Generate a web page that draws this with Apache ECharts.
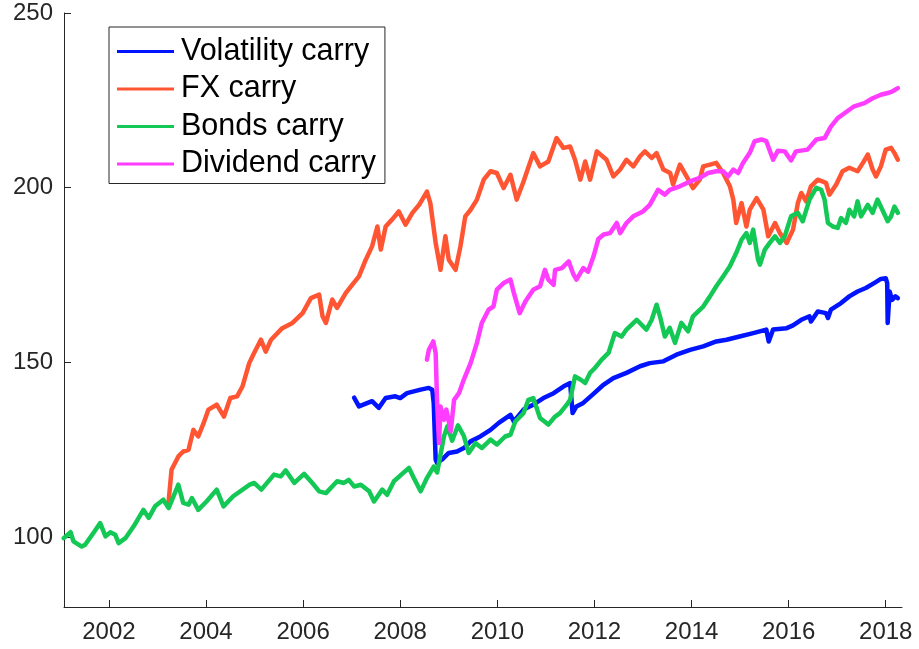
<!DOCTYPE html>
<html>
<head>
<meta charset="utf-8">
<script src="https://cdn.jsdelivr.net/npm/echarts@6/dist/echarts.min.js"></script>
<style>
html,body{margin:0;padding:0;background:#fff;}
#chart{width:919px;height:649px;}
</style>
</head>
<body>
<div id="chart"></div>
<script>
// Series names
var seriesNames = ['Volatility carry', 'FX carry', 'Bonds carry', 'Dividend carry'];
// Tick labels
var xTicks = [2002, 2004, 2006, 2008, 2010, 2012, 2014, 2016, 2018];
var yTicks = [100, 150, 200, 250];

// [year, index value]
var volatilityCarry = [[2007.05,139.9],[2007.15,137.4],[2007.42,138.9],[2007.56,137.0],[2007.7,139.8],[2007.9,140.3],[2008.0,139.8],[2008.14,141.2],[2008.28,141.7],[2008.42,142.2],[2008.59,142.7],[2008.66,142.2],[2008.69,138.4],[2008.73,122.2],[2008.76,121.2],[2008.86,122.2],[2009.0,124.1],[2009.17,124.5],[2009.31,125.5],[2009.45,127.4],[2009.65,128.8],[2009.86,130.7],[2010.03,132.7],[2010.27,135.0],[2010.34,133.1],[2010.54,136.5],[2010.74,137.9],[2010.95,139.8],[2011.16,141.2],[2011.36,143.1],[2011.5,144.1],[2011.55,135.5],[2011.63,137.4],[2011.77,138.4],[2011.98,141.0],[2012.17,143.4],[2012.39,145.5],[2012.66,147.0],[2012.94,148.9],[2013.14,149.8],[2013.42,150.3],[2013.69,152.2],[2013.97,153.6],[2014.24,154.6],[2014.51,156.0],[2014.72,156.5],[2014.99,157.4],[2015.27,158.4],[2015.54,159.4],[2015.59,156.0],[2015.68,159.4],[2015.96,159.8],[2016.09,160.6],[2016.26,162.2],[2016.43,163.2],[2016.46,161.7],[2016.6,164.6],[2016.77,164.1],[2016.81,162.7],[2016.87,165.1],[2017.08,167.0],[2017.25,168.9],[2017.42,170.3],[2017.59,171.3],[2017.76,172.7],[2017.9,173.9],[2018.0,174.1],[2018.03,172.7],[2018.04,161.3],[2018.08,170.3],[2018.13,167.9],[2018.2,168.9],[2018.25,168.4]];

var fxCarry = [[2003.23,110.2],[2003.29,119.3],[2003.43,123.1],[2003.53,124.5],[2003.64,125.0],[2003.74,130.7],[2003.84,128.8],[2003.95,132.6],[2004.05,136.5],[2004.22,137.9],[2004.37,134.5],[2004.5,139.8],[2004.64,140.3],[2004.75,143.1],[2004.89,149.8],[2004.99,152.7],[2005.13,156.5],[2005.23,153.1],[2005.34,156.5],[2005.57,159.8],[2005.78,161.3],[2005.99,164.1],[2006.16,168.4],[2006.33,169.4],[2006.4,163.2],[2006.47,161.3],[2006.6,168.0],[2006.7,165.6],[2006.88,169.9],[2007.01,172.2],[2007.15,174.6],[2007.29,179.4],[2007.42,183.2],[2007.53,188.9],[2007.6,182.3],[2007.7,188.9],[2007.84,191.0],[2007.97,193.2],[2008.11,189.4],[2008.25,192.8],[2008.39,195.1],[2008.55,198.9],[2008.62,195.6],[2008.73,184.2],[2008.83,176.5],[2008.93,186.1],[2009.0,179.4],[2009.14,176.5],[2009.24,183.2],[2009.34,191.8],[2009.45,193.7],[2009.58,196.6],[2009.72,202.3],[2009.86,204.7],[2009.99,204.2],[2010.13,199.9],[2010.27,203.7],[2010.4,196.6],[2010.54,201.8],[2010.74,209.9],[2010.88,206.1],[2011.05,207.5],[2011.22,214.2],[2011.36,211.4],[2011.5,211.8],[2011.6,208.0],[2011.71,202.3],[2011.81,207.5],[2011.91,202.3],[2012.05,210.4],[2012.25,208.0],[2012.39,203.2],[2012.53,205.2],[2012.66,208.0],[2012.8,206.1],[2012.94,209.0],[2013.04,210.4],[2013.18,208.5],[2013.28,209.9],[2013.42,205.2],[2013.56,204.2],[2013.62,200.9],[2013.76,206.6],[2013.9,203.2],[2014.03,199.9],[2014.17,202.3],[2014.24,206.1],[2014.38,206.6],[2014.51,207.1],[2014.65,204.2],[2014.79,200.4],[2014.86,196.6],[2014.92,189.9],[2015.03,195.6],[2015.13,188.9],[2015.2,193.7],[2015.34,197.0],[2015.48,193.7],[2015.58,186.1],[2015.72,189.9],[2015.82,187.0],[2015.96,184.2],[2016.09,188.0],[2016.19,195.6],[2016.26,198.5],[2016.36,196.1],[2016.46,200.4],[2016.6,202.3],[2016.77,201.4],[2016.84,198.0],[2016.98,200.9],[2017.11,204.7],[2017.25,205.7],[2017.42,204.7],[2017.53,207.1],[2017.63,209.5],[2017.73,205.2],[2017.8,203.2],[2017.9,206.1],[2018.0,210.9],[2018.11,211.4],[2018.18,209.9],[2018.25,208.0]];

var bondsCarry = [[2001.07,99.7],[2001.21,101.4],[2001.27,98.8],[2001.44,97.3],[2001.51,97.8],[2001.68,101.2],[2001.82,104.0],[2001.93,100.2],[2002.03,101.4],[2002.13,100.7],[2002.2,98.3],[2002.34,99.7],[2002.51,103.1],[2002.71,107.8],[2002.82,105.5],[2002.95,108.8],[2003.12,110.7],[2003.23,108.3],[2003.43,115.0],[2003.53,109.8],[2003.64,109.3],[2003.71,111.2],[2003.84,107.8],[2004.01,110.2],[2004.22,113.6],[2004.36,108.8],[2004.56,111.7],[2004.9,115.0],[2004.99,115.5],[2005.14,113.6],[2005.4,117.9],[2005.54,117.4],[2005.64,119.1],[2005.82,115.5],[2006.02,118.1],[2006.19,115.5],[2006.33,113.1],[2006.47,112.6],[2006.7,116.0],[2006.84,115.5],[2006.94,116.4],[2007.05,114.5],[2007.19,115.0],[2007.36,113.1],[2007.46,110.2],[2007.63,113.6],[2007.73,112.1],[2007.87,116.0],[2008.04,118.1],[2008.18,119.8],[2008.28,116.9],[2008.42,113.1],[2008.55,116.9],[2008.69,120.2],[2008.76,118.5],[2008.9,128.8],[2008.97,131.7],[2009.07,127.6],[2009.19,132.0],[2009.31,129.0],[2009.41,124.1],[2009.55,126.9],[2009.68,125.5],[2009.86,127.9],[2009.99,126.5],[2010.16,128.8],[2010.27,129.3],[2010.37,133.1],[2010.54,135.5],[2010.64,139.3],[2010.74,139.8],[2010.88,134.1],[2011.05,132.2],[2011.19,134.5],[2011.29,135.5],[2011.43,137.9],[2011.5,139.3],[2011.6,146.0],[2011.71,145.1],[2011.81,144.1],[2011.91,147.0],[2012.01,148.4],[2012.15,150.8],[2012.29,152.7],[2012.42,158.4],[2012.56,157.4],[2012.66,159.4],[2012.87,162.2],[2013.07,159.4],[2013.18,162.2],[2013.28,166.5],[2013.35,163.2],[2013.45,157.4],[2013.55,159.9],[2013.66,155.6],[2013.79,161.3],[2013.93,158.9],[2014.03,163.2],[2014.24,166.0],[2014.38,168.9],[2014.51,171.8],[2014.65,174.6],[2014.79,177.5],[2014.92,181.3],[2015.03,185.1],[2015.13,187.0],[2015.2,184.2],[2015.27,188.0],[2015.37,179.4],[2015.41,178.0],[2015.51,182.3],[2015.61,184.2],[2015.72,186.1],[2015.82,184.2],[2015.92,186.1],[2016.05,191.8],[2016.19,192.8],[2016.29,190.4],[2016.43,196.6],[2016.57,200.0],[2016.67,199.4],[2016.74,196.6],[2016.81,189.9],[2016.91,188.9],[2017.01,188.5],[2017.08,191.3],[2017.18,189.9],[2017.25,193.7],[2017.35,191.8],[2017.42,196.1],[2017.49,191.8],[2017.63,195.1],[2017.73,192.8],[2017.83,196.6],[2017.93,193.7],[2018.04,190.4],[2018.11,191.8],[2018.18,194.6],[2018.25,192.8]];

var dividendCarry = [[2008.55,150.8],[2008.59,153.6],[2008.68,156.0],[2008.73,152.7],[2008.76,138.4],[2008.8,126.9],[2008.83,137.4],[2008.9,133.6],[2008.95,136.5],[2009.04,130.3],[2009.11,139.3],[2009.21,141.2],[2009.31,145.1],[2009.45,149.8],[2009.58,155.6],[2009.68,161.3],[2009.82,165.1],[2009.92,166.0],[2009.99,170.8],[2010.13,172.7],[2010.27,173.7],[2010.34,169.9],[2010.46,164.1],[2010.58,167.5],[2010.74,170.8],[2010.88,171.8],[2010.98,176.5],[2011.05,173.7],[2011.16,172.2],[2011.19,176.5],[2011.33,177.0],[2011.47,178.9],[2011.57,175.1],[2011.63,173.7],[2011.77,177.0],[2011.87,176.0],[2011.98,180.3],[2012.08,185.3],[2012.19,186.6],[2012.32,187.0],[2012.46,189.9],[2012.53,187.0],[2012.66,189.9],[2012.8,191.8],[2013.0,193.2],[2013.14,195.1],[2013.31,199.4],[2013.45,198.0],[2013.55,199.4],[2013.76,200.4],[2013.97,201.8],[2014.17,202.8],[2014.34,204.2],[2014.51,204.7],[2014.65,204.7],[2014.75,203.2],[2014.86,205.2],[2014.96,204.2],[2015.06,207.1],[2015.2,210.0],[2015.3,213.3],[2015.44,213.8],[2015.54,213.3],[2015.68,208.0],[2015.78,210.6],[2015.92,210.4],[2016.05,207.8],[2016.15,210.4],[2016.39,210.9],[2016.57,213.8],[2016.74,214.2],[2016.87,217.5],[2017.01,219.9],[2017.15,221.3],[2017.35,223.3],[2017.56,224.2],[2017.73,225.6],[2017.9,226.6],[2018.04,227.1],[2018.14,227.6],[2018.25,228.5]];

var colors = ['#0014ff', '#ff5533', '#14c855', '#ff3cff'];
var allData = [volatilityCarry, fxCarry, bondsCarry, dividendCarry];

var chart = echarts.init(document.getElementById('chart'), null, {renderer: 'canvas'});
var axisColor = '#262626';
var font = '"Liberation Sans", Arial, Helvetica, sans-serif';

chart.setOption({
  animation: false,
  backgroundColor: '#ffffff',
  color: colors,
  grid: {left: 64, right: 17, top: 13, bottom: 42, containLabel: false},
  xAxis: {
    type: 'value',
    min: 2001.075,
    max: 2018.335,
    axisLine: {show: true, lineStyle: {color: axisColor, width: 1}},
    axisTick: {show: true, inside: true, length: 7, customValues: xTicks, lineStyle: {color: axisColor}},
    axisLabel: {show: true, customValues: xTicks, margin: 13, fontSize: 24, color: axisColor, fontFamily: font,
      formatter: function (v) { return String(v); }},
    splitLine: {show: false}
  },
  yAxis: {
    type: 'value',
    min: 80,
    max: 250,
    axisLine: {show: true, lineStyle: {color: axisColor, width: 1}},
    axisTick: {show: true, inside: true, length: 7, customValues: yTicks, lineStyle: {color: axisColor}},
    axisLabel: {show: true, customValues: yTicks, margin: 11, fontSize: 24, color: axisColor, fontFamily: font},
    splitLine: {show: false}
  },
  legend: {
    orient: 'vertical',
    left: 109,
    top: 27,
    padding: [9, 9, 4, 8],
    icon: 'rect',
    itemWidth: 57,
    itemHeight: 3,
    itemGap: 6.5,
    backgroundColor: '#ffffff',
    borderColor: axisColor,
    borderWidth: 1,
    borderRadius: 0,
    data: seriesNames,
    textStyle: {fontSize: 30.5, color: '#000000', fontFamily: font, lineHeight: 30, padding: [0, 0, 0, 2]}
  },
  series: allData.map(function (d, i) {
    return {
      name: seriesNames[i],
      type: 'line',
      data: d,
      symbol: 'none',
      showSymbol: false,
      lineStyle: {width: 4.5, color: colors[i], cap: 'round', join: 'round'},
      itemStyle: {color: colors[i]},
      z: 2 + i
    };
  })
});
</script>
</body>
</html>
